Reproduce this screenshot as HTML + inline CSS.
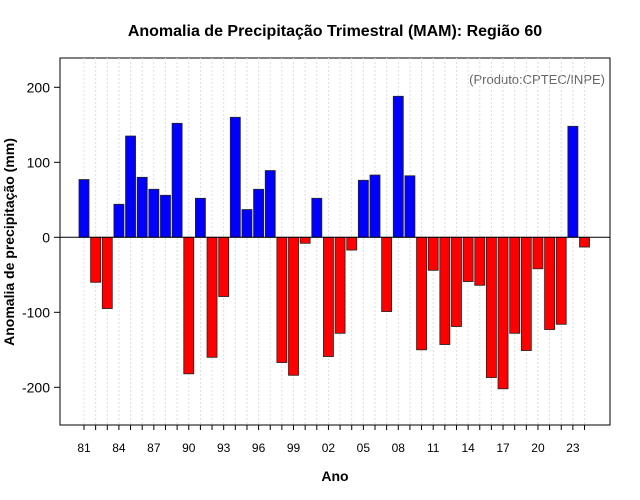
<!DOCTYPE html>
<html><head><meta charset="utf-8"><style>body{margin:0;background:#fff}svg{display:block;font-family:"Liberation Sans",sans-serif}</style></head>
<body>
<svg id="chart" width="640" height="500" viewBox="0 0 640 500">
<text x="335" y="36" text-anchor="middle" font-size="16" font-weight="bold">Anomalia de Precipitação Trimestral (MAM): Região 60</text>
<rect x="60" y="58" width="550" height="367" fill="none" stroke="#000" stroke-width="1"/>
<text x="605" y="84" text-anchor="end" font-size="13" fill="#666">(Produto:CPTEC/INPE)</text>
<text x="335" y="481" text-anchor="middle" font-size="14" font-weight="bold">Ano</text>
<text transform="translate(14,242) rotate(-90)" text-anchor="middle" font-size="14" font-weight="bold">Anomalia de precipitação (mm)</text>
<g id="grid"></g><g id="bars"></g><g id="axes"></g>
</svg>
<script>
const years=[1981,1982,1983,1984,1985,1986,1987,1988,1989,1990,1991,1992,1993,1994,1995,1996,1997,1998,1999,2000,2001,2002,2003,2004,2005,2006,2007,2008,2009,2010,2011,2012,2013,2014,2015,2016,2017,2018,2019,2020,2021,2022,2023,2024];
const values=[77,-60,-95,44,135,80,64,56,152,-182,52,-160,-79,160,37,64,89,-167,-184,-8,52,-159,-128,-17,76,83,-99,188,82,-150,-44,-143,-119,-59,-64,-187,-202,-128,-151,-42,-123,-116,148,-13];
const yTicks=[-200,-100,0,100,200];
const NS="http://www.w3.org/2000/svg";
const xs=y=>84+(y-1981)*11.64;
const ys=v=>237.3-v*0.75;
function mk(t,a,p){const e=document.createElementNS(NS,t);for(const k in a)e.setAttribute(k,a[k]);p.appendChild(e);return e;}
const grid=document.getElementById('grid'),bars=document.getElementById('bars'),axes=document.getElementById('axes');
years.forEach((yr,i)=>{
  const g=mk('line',{x1:xs(yr),x2:xs(yr),y1:58,y2:425,stroke:'#ddd','stroke-dasharray':'2,2'},grid);
  
  
  const v=values[i];
  const r=mk('rect',{x:xs(yr)-5,y:Math.min(ys(v),ys(0)),width:10,height:Math.abs(ys(v)-ys(0)),fill:v>=0?'#0000ff':'#ff0000',stroke:'#222','stroke-width':0.8},bars);
  
  
  const t=mk('line',{x1:xs(yr),x2:xs(yr),y1:425,y2:430,stroke:'#000'},axes);
  
  
  if((yr-1981)%3===0){
    const l=mk('text',{x:xs(yr),y:452,'text-anchor':'middle','font-size':12},axes);
    l.textContent=String(yr%100).padStart(2,'0');
    
    
  }
});
const z=mk('line',{x1:60,x2:610,y1:ys(0),y2:ys(0),stroke:'#000'},axes);


yTicks.forEach(v=>{
  const t=mk('line',{x1:54,x2:60,y1:ys(v),y2:ys(v),stroke:'#000'},axes);
  
  
  const l=mk('text',{x:50,y:ys(v)+5,'text-anchor':'end','font-size':14},axes);
  l.textContent=v;
  
  
});
</script>
</body></html>
